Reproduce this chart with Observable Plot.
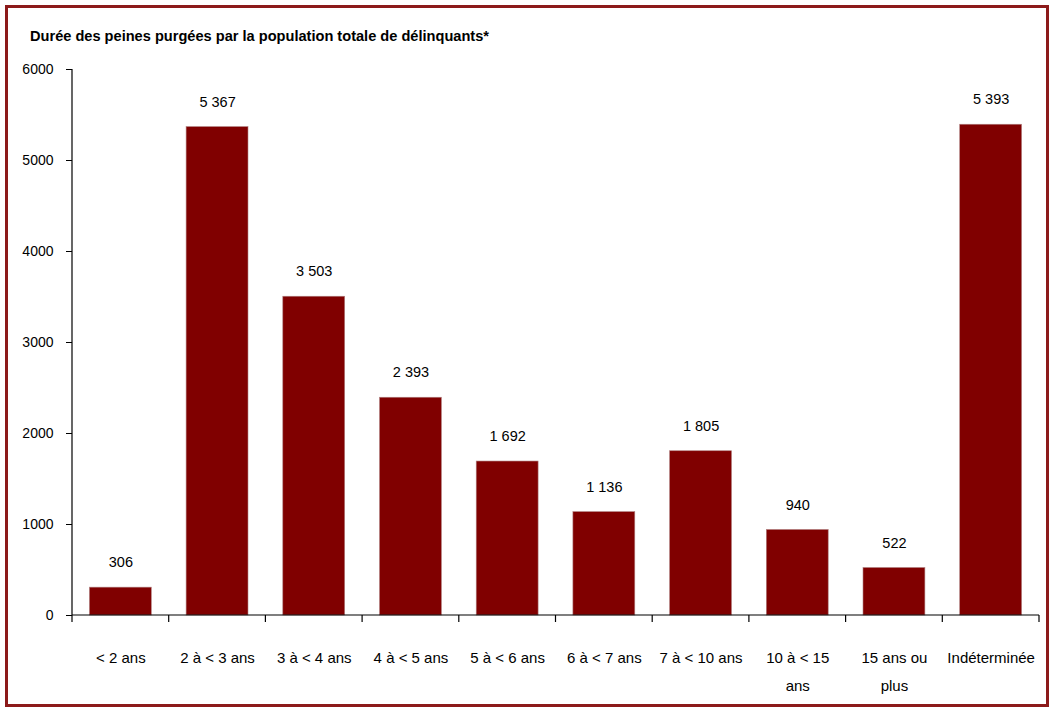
<!DOCTYPE html>
<html>
<head>
<meta charset="utf-8">
<script src="https://cdn.jsdelivr.net/npm/d3@7"></script>
<script src="https://cdn.jsdelivr.net/npm/@observablehq/plot@0.6"></script>
<style>
  html, body { margin: 0; padding: 0; background: #fff; }
  #wrap { position: relative; width: 1055px; height: 714px; overflow: hidden; font-family: "Liberation Sans", Arial, sans-serif; }
  #wrap svg { position: absolute; left: 0; top: 0; }
  #frame { position: absolute; left: 5px; top: 5px; width: 1038px; height: 696px; border: 3px solid #8c1a1a; }
  #title { position: absolute; left: 30px; top: 28px; font-weight: bold; font-size: 14.6px; color: #000; white-space: nowrap; }
</style>
</head>
<body>
<div id="wrap">
  <div id="chart"></div>
  <div id="frame"></div>
  <div id="title">Durée des peines purgées par la population totale de délinquants*</div>
</div>
<script>
const categories = ["< 2 ans", "2 à < 3 ans", "3 à < 4 ans", "4 à < 5 ans", "5 à < 6 ans", "6 à < 7 ans", "7 à < 10 ans", "10 à < 15 ans", "15 ans ou plus", "Indéterminée"];
const values = [306, 5367, 3503, 2393, 1692, 1136, 1805, 940, 522, 5393];
const tickLabels = ["< 2 ans", "2 à < 3 ans", "3 à < 4 ans", "4 à < 5 ans", "5 à < 6 ans", "6 à < 7 ans", "7 à < 10 ans", "10 à < 15\nans", "15 ans ou\nplus", "Indéterminée"];
const yTicks = [0, 1000, 2000, 3000, 4000, 5000, 6000];

const data = categories.map((c, i) => ({cat: c, value: values[i], label: tickLabels[i]}));
const fr = d3.formatLocale({decimal: ",", thousands: " ", grouping: [3], currency: ["", " $"]});
const fmt = fr.format(",d");

function axisLines(index, scales, values, dimensions) {
  const {width, height, marginLeft, marginRight, marginTop, marginBottom} = dimensions;
  const x0 = marginLeft, x1 = width - marginRight, y0 = height - marginBottom;
  const g = d3.create("svg:g").attr("stroke", "#000").attr("stroke-width", 1.2).attr("fill", "none");
  g.append("line").attr("x1", x0).attr("x2", x0).attr("y1", marginTop).attr("y2", y0);
  g.append("line").attr("x1", x0).attr("x2", x1).attr("y1", y0).attr("y2", y0);
  const step = (x1 - x0) / categories.length;
  const sx = scales.x;
  let bw = 0;
  if (sx && typeof sx.bandwidth === "function") bw = sx.bandwidth();
  else if (sx && typeof sx.bandwidth === "number") bw = sx.bandwidth;
  const starts = categories.map(c => sx(c) + bw / 2 - step / 2);
  starts.push(starts[starts.length - 1] + step);
  for (const s of starts) {
    if (!isFinite(s)) continue;
    g.append("line").attr("x1", s).attr("x2", s).attr("y1", y0).attr("y2", y0 + 7);
  }
  return g.node();
}

const chart = Plot.plot({
  width: 1055,
  height: 714,
  marginLeft: 72,
  marginRight: 16,
  marginTop: 69,
  marginBottom: 99,
  style: {fontFamily: "Liberation Sans, Arial, sans-serif", fontSize: "14px", color: "#000", background: "transparent"},
  x: {domain: categories, paddingInner: 0.36, paddingOuter: 0.18, round: false, axis: null, label: null},
  y: {domain: [0, 6000], ticks: yTicks, axis: null, label: null},
  marks: [
    Plot.barY(data, {x: "cat", y: "value", fill: "#800000", stroke: "#b08080", strokeWidth: 0.6}),
    Plot.text(data, {x: "cat", y: "value", text: d => fmt(d.value), dy: -25, fontSize: 14.5, fill: "#000"}),
    Plot.text(data, {x: "cat", text: "label", frameAnchor: "bottom", lineAnchor: "top", dy: 28, lineHeight: 1.87, fontSize: 15, fill: "#000"}),
    Plot.axisY({ticks: yTicks, tickSize: 6, tickPadding: 13, tickFormat: d => String(d), fontSize: 14, stroke: "#000", label: null}),
    axisLines
  ]
});
document.getElementById("chart").appendChild(chart);
</script>
</body>
</html>
